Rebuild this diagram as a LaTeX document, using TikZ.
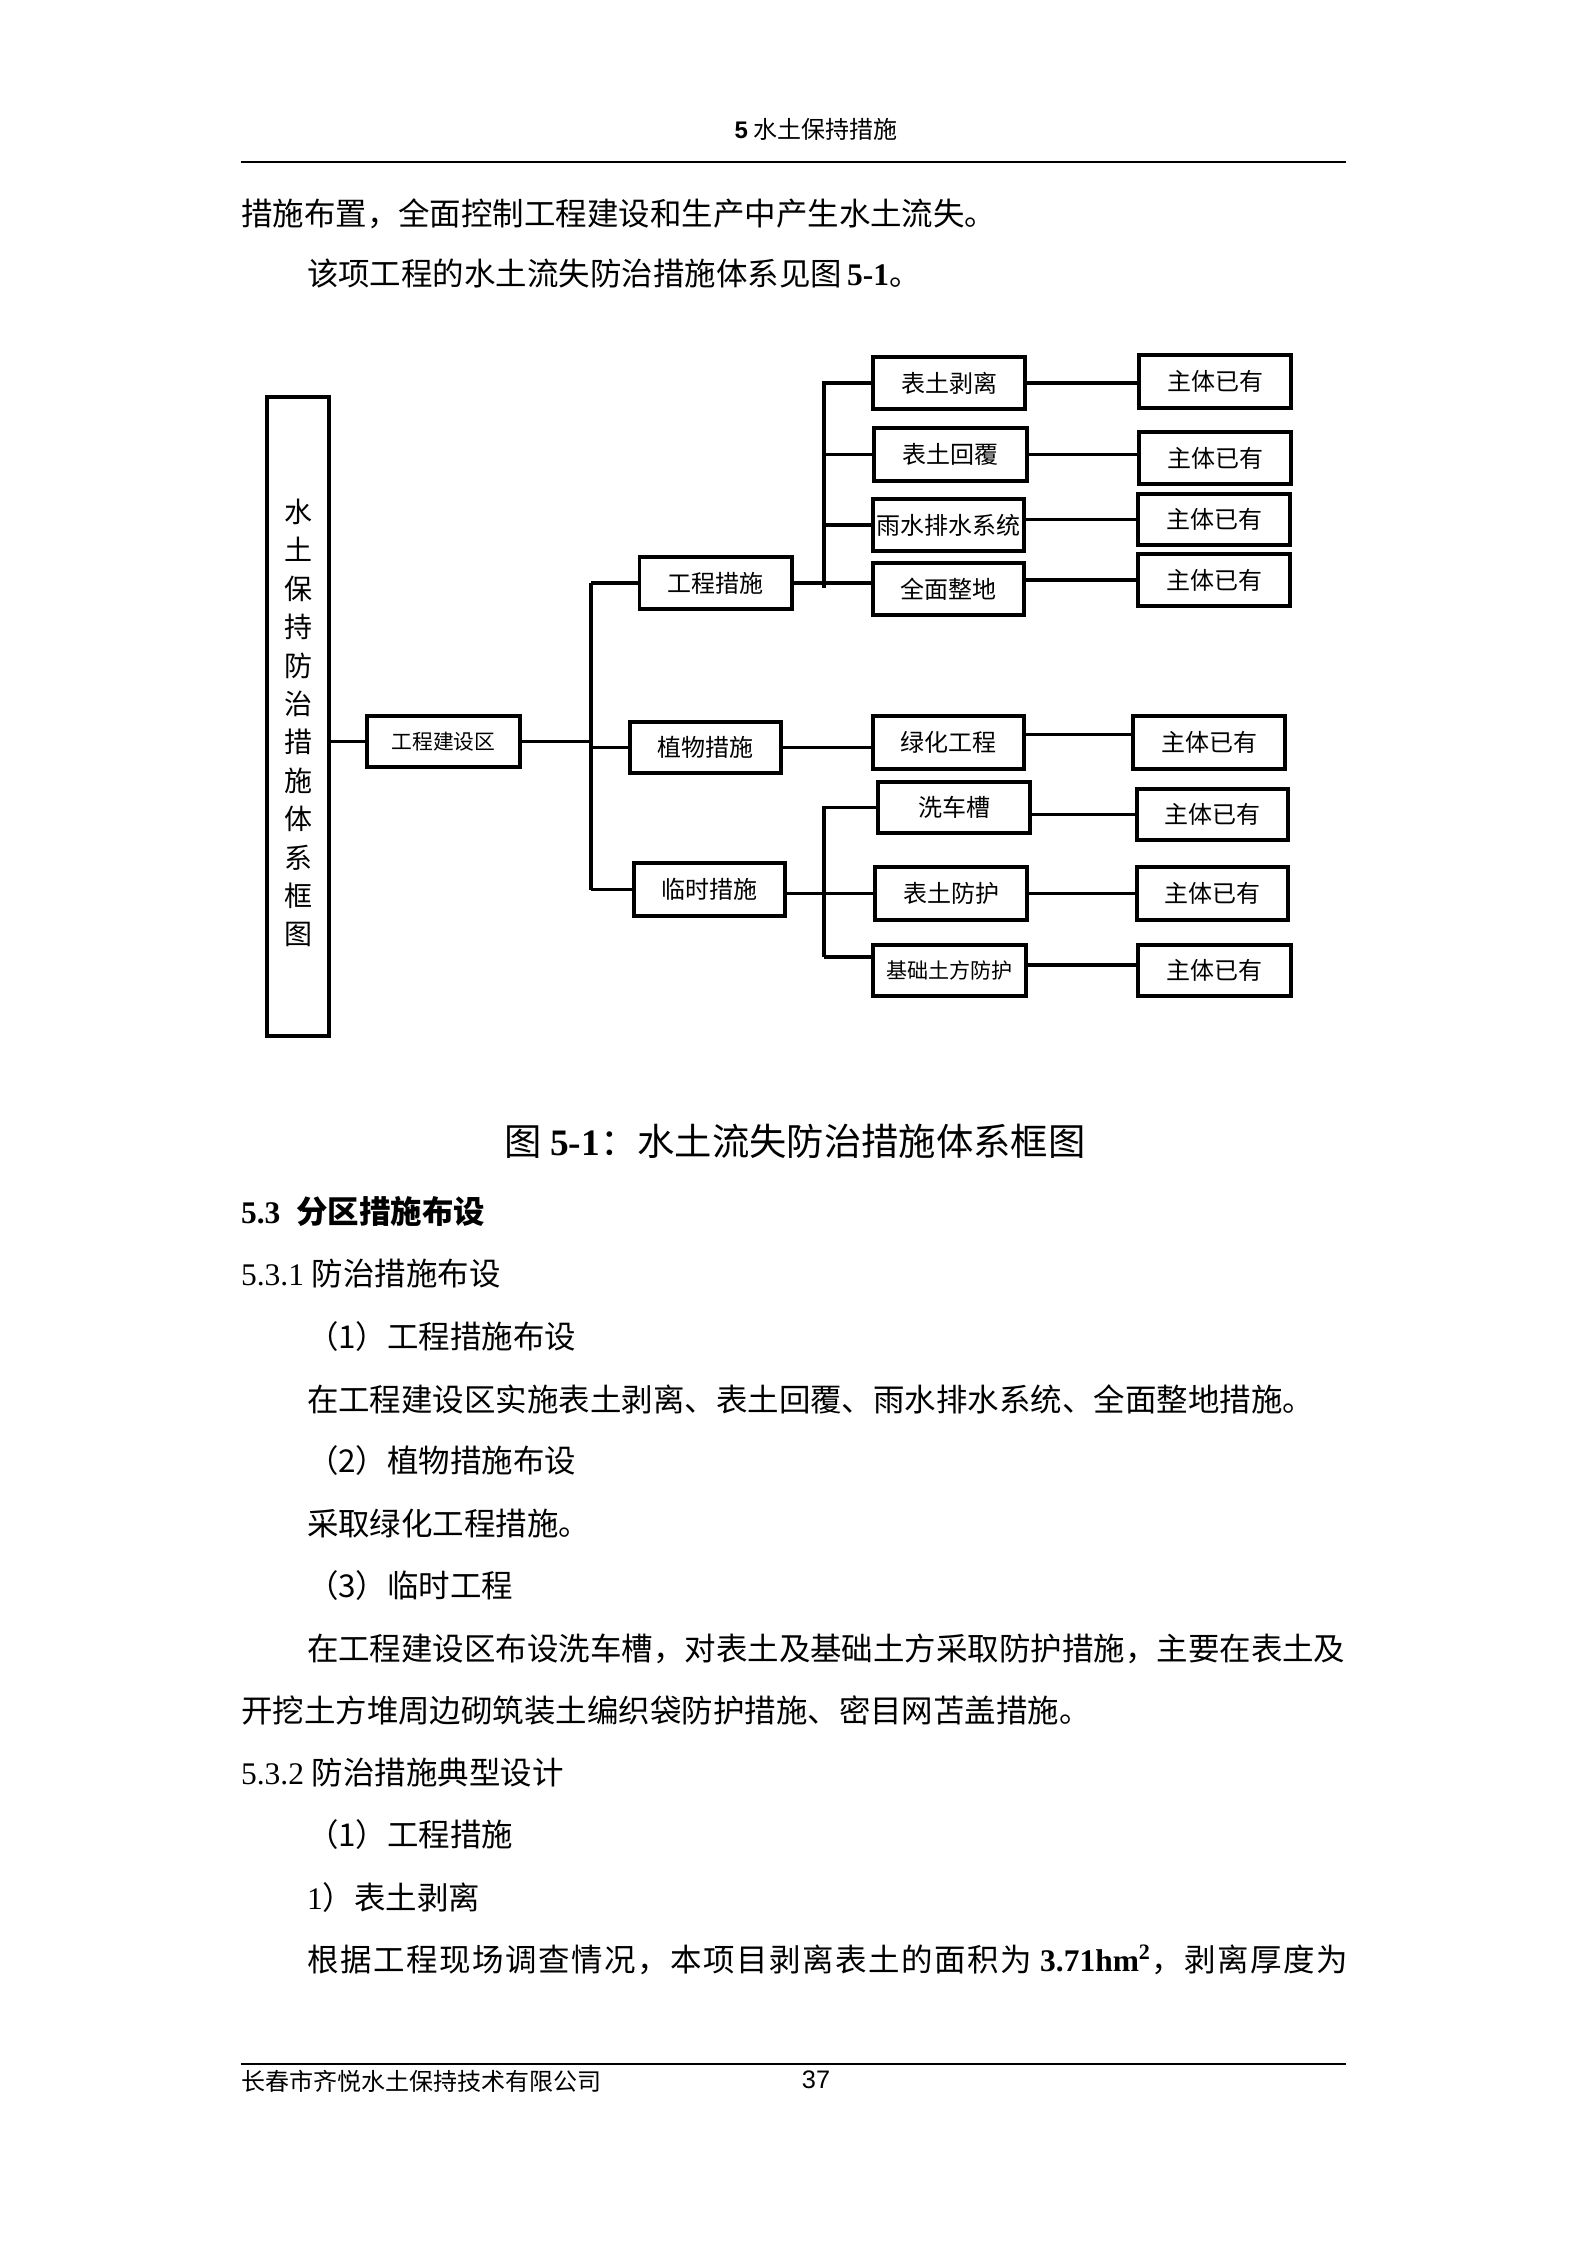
\documentclass[tikz,border=0pt]{standalone}
\usepackage{fontspec}
\setmainfont{Liberation Serif}
\newfontfamily\cjk{Noto Sans CJK SC}
\newfontfamily\cjkls[LetterSpace=5.0]{Noto Sans CJK SC}
\newfontfamily\arialf{Liberation Sans}
% box from (x1,y1) to (x2,y2) in pixel units, named #6
\newcommand\boxnode[6][]{\node[bx,#1,minimum width={(#4-#2)*0.375pt},minimum height={(#5-#3)*0.375pt}] (#6) at ({(#2+#4)/2},{(#3+#5)/2})}
\begin{document}
\begin{tikzpicture}[x=0.375pt,y=-0.375pt,
  bx/.style={draw,line width=1.4pt,inner sep=0pt,font=\cjk\fontsize{9}{11}\selectfont},
  ln/.style={line width=1.4pt},
  body/.style={anchor=west,inner sep=0pt,font=\cjk\fontsize{11.8}{14}\selectfont},
  hd/.style={anchor=west,inner sep=0pt,font=\cjk\bfseries\fontsize{11.8}{14}\selectfont},
  rule/.style={line width=0.5pt}]
\fill[white] (0,0) rectangle (1587,2245);
\useasboundingbox (0,0) rectangle (1587,2245);

% header
\node[inner sep=0pt,font=\cjk\fontsize{9}{11}\selectfont] (hdr) at (816,129) {{\arialf\bfseries 5} 水土保持措施};
\coordinate (hl1) at (240.6,162);
\coordinate (hl2) at (1346.4,162);
\draw[rule] (hl1) -- (hl2);

% body text above the figure
\node[body] (l1) at (240.6,213.4) {措施布置，全面控制工程建设和生产中产生水土流失。};
\node[body] (l2) at (306.5,273.6) {该项工程的水土流失防治措施体系见图{\rmfamily\bfseries\,5-1}。};

% diagram boxes
\boxnode[align=center,font=\cjk\fontsize{10.5}{14.4}\selectfont]{267}{397}{329}{1036}{big}
  {\rule{0pt}{13.7pt}水\\土\\保\\持\\防\\治\\措\\施\\体\\系\\框\\图};
\boxnode[font=\cjk\fontsize{7.8}{9}\selectfont]{367}{716}{520}{767}{zone} {工程建设区};
\boxnode{639.5}{557}{792}{609}{gc} {工程措施};
\boxnode{630}{722}{781}{773}{zw} {植物措施};
\boxnode{634}{863}{785}{916}{ls} {临时措施};

\boxnode{873}{357}{1025}{409}{b1} {表土剥离};
\boxnode{874}{428}{1027}{481}{b2} {表土回覆};
\boxnode{873}{499}{1024}{551}{b3} {雨水排水系统};
\boxnode{873}{563}{1024}{615}{b4} {全面整地};
\boxnode{873}{716}{1024}{769}{b5} {绿化工程};
\boxnode{878}{782}{1030}{833}{b6} {洗车槽};
\boxnode{875}{867}{1027}{920}{b7} {表土防护};
\boxnode[font=\cjk\fontsize{7.9}{9}\selectfont]{873}{945}{1026}{996}{b8} {基础土方防护};

\boxnode{1139}{355}{1291}{408}{z1} {主体已有};
\boxnode{1139}{432}{1291}{484}{z2} {主体已有};
\boxnode{1138}{494}{1290}{545}{z3} {主体已有};
\boxnode{1138}{554}{1290}{606}{z4} {主体已有};
\boxnode{1133}{716}{1285}{769}{z5} {主体已有};
\boxnode{1137}{789}{1288}{840}{z6} {主体已有};
\boxnode{1137}{867}{1288}{920}{z7} {主体已有};
\boxnode{1138}{945}{1291}{996}{z8} {主体已有};

% trunks
\coordinate (tT) at (591,583);
\coordinate (tB) at (591,889.5);
\coordinate (uT) at (824,381);
\coordinate (uB) at (824,588);
\coordinate (lT) at (824,806);
\coordinate (lB) at (824,957);

% connectors
\draw[ln] (zone.west) -- (zone.west -| big.east);
\draw[ln] (zone.east) -- (zone.east -| tT);
\draw[ln] (tT) -- (tB);
\draw[ln] (gc.west) -- (gc.west -| tT);
\draw[ln] (zw.west) -- (zw.west -| tT);
\draw[ln] (ls.west) -- (ls.west -| tT);

\draw[ln] (uT) -- (uB);
\draw[ln] (gc.east) -- (b4.west |- gc.east);
\draw[ln] (b1.west) -- (b1.west -| uT);
\draw[ln] (b2.west) -- (b2.west -| uT);
\draw[ln] (b3.west) -- (b3.west -| uT);

\draw[ln] (lT) -- (lB);
\draw[ln] (b6.west) -- (b6.west -| lT);
\draw[ln] (b7.west -| ls.east) -- (b7.west);
\draw[ln] (lB) -- (lB -| b8.west);

\draw[ln] (zw.east) -- (zw.east -| b5.west);

\draw[ln] (b1.east) -- (b1.east -| z1.west);
\draw[ln] (b2.east) -- (b2.east -| z2.west);
\draw[ln] (z3.west -| b3.east) -- (z3.west);
\draw[ln] (z4.west -| b4.east) -- (z4.west);
\draw[ln] ([yshift=3pt]b5.east) -- ([yshift=3pt]b5.east -| z5.west);
\draw[ln] (z6.west -| b6.east) -- (z6.west);
\draw[ln] (b7.east) -- (b7.east -| z7.west);
\draw[ln] ([yshift=2pt]b8.east) -- ([yshift=2pt]b8.east -| z8.west);

% caption
\node[inner sep=0pt,font=\cjk\fontsize{14}{16}\selectfont] (cap) at (795,1141.5)
  {图 {\rmfamily\bfseries 5-1}：水土流失防治措施体系框图};

% body text below the figure
\node[hd] (s1) at (240.6,1211.7) {{\rmfamily 5.3}\hspace{0.5em}分区措施布设};
\node[body] (s2) at (240.6,1273.3) {{\rmfamily 5.3.1 }防治措施布设};
\node[body] (s3) at (306.5,1336.3) {（1）工程措施布设};
\node[body] (s4) at (306.5,1399.4) {在工程建设区实施表土剥离、表土回覆、雨水排水系统、全面整地措施。};
\node[body] (s5) at (306.5,1461) {（2）植物措施布设};
\node[body] (s6) at (306.5,1524) {采取绿化工程措施。};
\node[body] (s7) at (306.5,1585.6) {（3）临时工程};
\node[body] (s8) at (306.5,1648.6) {在工程建设区布设洗车槽，对表土及基础土方采取防护措施，主要在表土及};
\node[body] (s9) at (240.6,1710) {开挖土方堆周边砌筑装土编织袋防护措施、密目网苫盖措施。};
\node[body] (s10) at (240.6,1773) {{\rmfamily 5.3.2 }防治措施典型设计};
\node[body] (s11) at (306.5,1834.8) {（1）工程措施};
\node[body] (s12) at (306.5,1897.8) {{\rmfamily 1}）表土剥离};
\node[body,font=\cjkls\fontsize{11.8}{14}\selectfont] (s13) at (306.5,1959.4)
  {根据工程现场调查情况，本项目剥离表土的面积为{\rmfamily\bfseries\ 3.71hm\textsuperscript{2}}，剥离厚度为};

% footer
\coordinate (fl1) at (240.6,2064);
\coordinate (fl2) at (1346.4,2064);
\draw[line width=1pt] (fl1) -- (fl2);
\node[anchor=west,inner sep=0pt,font=\cjk\fontsize{9}{11}\selectfont] (ft) at (240.6,2081) {长春市齐悦水土保持技术有限公司};
\node[inner sep=0pt,font=\arialf\fontsize{9.5}{11}\selectfont] (pg) at (816,2080) {37};
\end{tikzpicture}
\end{document}
